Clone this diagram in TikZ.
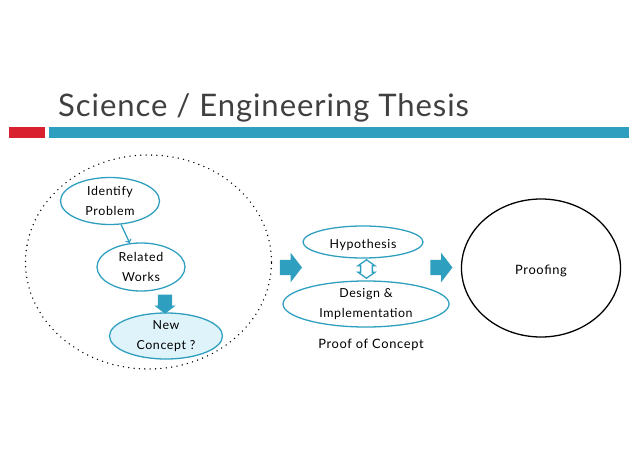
\documentclass[tikz,border=0pt]{standalone}
\usepackage{fontspec}
\setmainfont{Lato}[LetterSpace=5]
\newfontfamily\titlefont{Lato}[LetterSpace=3]
\usepackage{tikz}
\usetikzlibrary{shapes,arrows}
\definecolor{barblue}{HTML}{2E9FBF}
\definecolor{barred}{HTML}{D9202E}
\definecolor{paleblue}{HTML}{DFF3FA}
\definecolor{titlegray}{HTML}{404040}
\tikzset{
  lowered/.style={execute at begin node={\rule{0pt}{13pt}}},
  bubble/.style={draw=barblue,ellipse,line width=1.1pt,inner sep=0pt,align=center,lowered,font=\fontsize{10.6}{17}\selectfont,text=black},
  blockarrow/.style={single arrow,fill=barblue,inner xsep=0pt,inner ysep=0.225cm,minimum width=0.87cm,minimum height=0.66cm,single arrow head extend=0.21cm,single arrow tip angle=105},
}

\begin{document}
\begin{tikzpicture}[x=0.03cm,y=-0.03cm]
  \useasboundingbox (0,0) rectangle (638,451);
  \node[inner sep=0pt,anchor=base west,text=titlegray,font=\titlefont\fontsize{26.5}{30}\selectfont] (title) at (58,116) {Science / Engineering Thesis};
  \node[fill=barred,inner sep=0pt,minimum width=1.08cm,minimum height=0.33cm] (redbar) at (27,132.5) {};
  \node[fill=barblue,inner sep=0pt,minimum width=17.4cm,minimum height=0.33cm] (bluebar) at (339,132.5) {};
  \node[draw,ellipse,dash pattern=on 0pt off 4.6pt,line cap=round,line width=1.3pt,inner sep=0pt,minimum width=7.38cm,minimum height=6.42cm] (scope) at (148.5,262) {};
  \node[bubble,minimum width=2.97cm,minimum height=1.41cm] (ip) at (110,201) {Identify\\Problem};
  \node[bubble,minimum width=2.64cm,minimum height=1.44cm] (rw) at (141,267) {Related\\Works};
  \node[bubble,fill=paleblue,minimum width=3.39cm,minimum height=1.38cm] (nc) at (166,336) {New\\Concept ?};
  \node[bubble,minimum width=3.6cm,minimum height=0.96cm] (hyp) at (363,242) {Hypothesis};
  \node[bubble,minimum width=4.98cm,minimum height=1.38cm] (impl) at (366,304) {Design \&\\Implementation};
  \node[inner sep=0pt,font=\fontsize{11}{13}\selectfont] (poc) at (371,345) {Proof of Concept};
  \node[draw=black,ellipse,line width=1.1pt,inner sep=0pt,minimum width=4.77cm,minimum height=4.14cm,lowered,font=\fontsize{11}{13}\selectfont] (proof) at (541,268) {Proofing};
  \draw[->,draw=barblue,line width=1.1pt] (ip) -- (rw);
  \node[blockarrow,rotate=-90,inner ysep=0.18cm,minimum width=0.63cm,minimum height=0.57cm,single arrow head extend=0.09cm] (down) at (165,301.5) {};
  \node[blockarrow] (right1) at (288,267.5) {};
  \node[blockarrow] (right2) at (438.5,267.5) {};
  \node[double arrow,rotate=90,draw=barblue,fill=white,line width=1.1pt,inner xsep=0pt,inner ysep=0.1cm,minimum width=0.5cm,minimum height=0.55cm,double arrow head extend=0.05cm,double arrow tip angle=110] (swap) at (366.5,269) {};
\end{tikzpicture}
\end{document}
